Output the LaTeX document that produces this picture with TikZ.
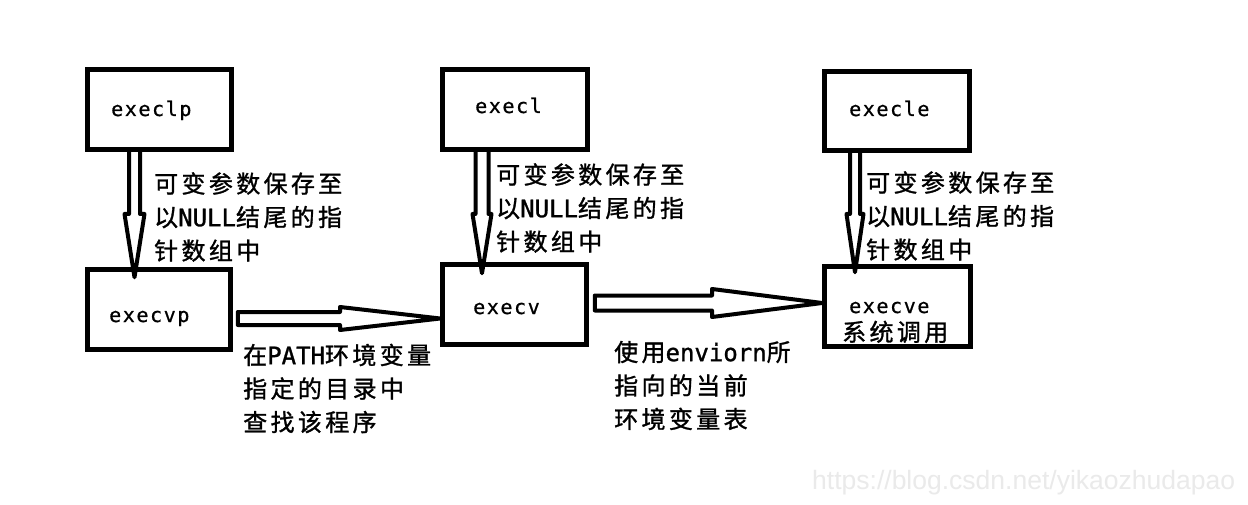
\documentclass[tikz,border=0pt]{standalone}
\usepackage{fontspec}
\usepackage{graphicx}
\usetikzlibrary{calc}
\setmainfont{Noto Sans CJK SC}
\newfontfamily\cjkfont[LetterSpace=14,FakeBold=1.2]{Noto Sans CJK SC}
\newfontfamily\latn[FakeBold=1.2]{DejaVu Sans Mono}
\newfontfamily\boxfont[LetterSpace=8,FakeBold=0.8]{DejaVu Sans Mono}
\newfontfamily\wmfont{Liberation Sans}
\definecolor{wmgray}{RGB}{234,234,234}

\newcommand\vhollow[7]{%
  \draw[hollow] let \p1=(#1.south), \p2=(#2.north) in
    (#3pt-#4pt,\y1) -- (#3pt-#4pt,-#6pt) -- (#3pt-#5pt,-#6pt) -- (#3pt,\y2-#7pt)
    -- (#3pt+#5pt,-#6pt) -- (#3pt+#4pt,-#6pt) -- (#3pt+#4pt,\y1);}
\newcommand\hhollow[7]{%
  \draw[hollow] let \p1=(#1.east), \p2=(#2.west) in
    (\x1+#7pt,-#3pt+#4pt) -- (#6pt,-#3pt+#4pt) -- (#6pt,-#3pt+#5pt) -- (\x2,-#3pt)
    -- (#6pt,-#3pt-#5pt) -- (#6pt,-#3pt-#4pt) -- (\x1+#7pt,-#3pt-#4pt) -- cycle;}

\tikzset{
  box/.style={draw, line width=4.5pt, inner sep=0pt, minimum height=80pt},
  btxt/.style={inner sep=0pt, font=\fontsize{20}{22}\boxfont, anchor=base west},
  lab/.style={inner sep=0pt, align=left, anchor=west, font=\fontsize{24}{33.5}\cjkfont},
  hollow/.style={draw, line width=4pt, line join=round}
}

\begin{document}
\begin{tikzpicture}[x=1pt,y=1pt]
\useasboundingbox (0,0) rectangle (1248,-505);
\fill[white] (0,0) rectangle (1248,-505);

% boxes
\node[box, minimum width=144pt] (execlp) at (159.5,-109.5) {};
\node[box, minimum width=143pt] (execvp) at (159,-309.5) {};
\node[box, minimum width=145pt] (execl) at (515,-109.5) {};
\node[box, minimum width=144pt] (execv) at (514.5,-304.5) {};
\node[box, minimum width=145pt, minimum height=79pt] (execle) at (897,-111) {};
\node[box, minimum width=146pt] (execve) at (897.5,-306.5) {};

% box texts
\node[btxt] (t1) at (111,-116) {execlp};
\node[btxt] (t2) at (109,-322) {execvp};
\node[btxt] (t3) at (475,-113) {execl};
\node[btxt] (t4) at (473,-314) {execv};
\node[btxt] (t5) at (849,-116) {execle};
\node[btxt] (t6) at (849,-313) {execve};
\node[inner sep=0pt, anchor=base west, font=\fontsize{24}{26}\cjkfont] (t7) at (842,-341) {系统调用};

% vertical arrows
\vhollow{execlp}{execvp}{134.5}{5.5}{10}{214}{10}
\vhollow{execl}{execv}{482}{6.5}{9.5}{214}{11}
\vhollow{execle}{execve}{855}{5}{8.5}{214}{8}

% horizontal arrows
\hhollow{execvp}{execv}{318.5}{6.5}{11.5}{340}{5}
\hhollow{execv}{execve}{303}{7.5}{14}{712}{6}

% labels
\node[lab] (l1) at (154,-217) {可变参数保存至\\以{\latn NULL}结尾的指\\针数组中};
\node[lab] (l2) at (496,-208) {可变参数保存至\\以{\latn NULL}结尾的指\\针数组中};
\node[lab] (l3) at (866,-216) {可变参数保存至\\以{\latn NULL}结尾的指\\针数组中};
\node[lab] (l4) at (243,-388.5) {在{\latn PATH}环境变量\\指定的目录中\\查找该程序};
\node[lab] (l5) at (614,-385.5) {使用{\latn enviorn}所\\指向的当前\\环境变量表};

% watermark
\node[inner sep=0pt, anchor=base west, text=wmgray, font=\fontsize{26.5}{28}\wmfont] (wm) at (812,-489) {https://blog.csdn.net/yikaozhudapao};
\end{tikzpicture}
\end{document}
